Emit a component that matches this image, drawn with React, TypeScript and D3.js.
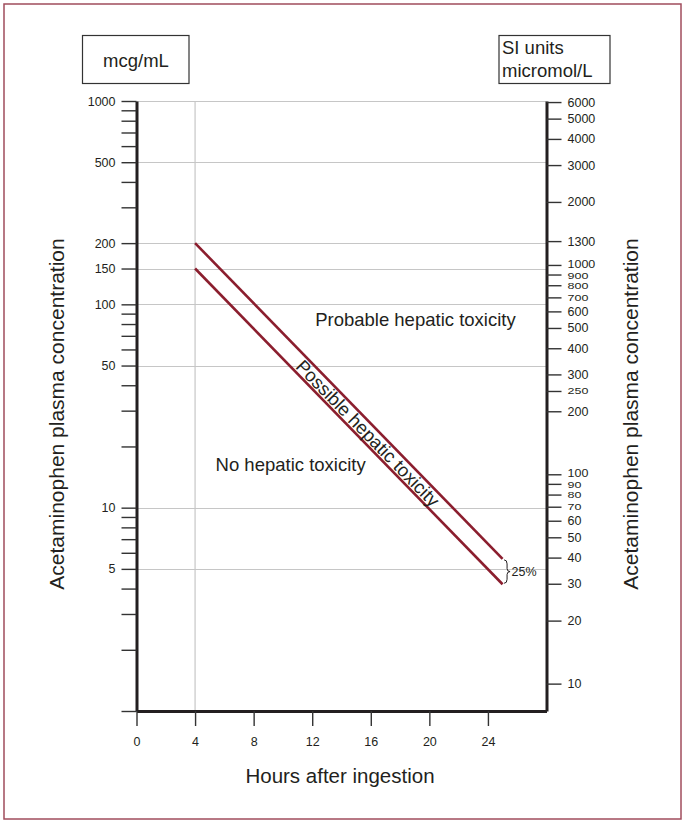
import React, { useEffect, useRef } from "react";
import * as d3 from "d3";

// values
const hours = [0, 4, 8, 12, 16, 20, 24];
const mcgMajor = [1000, 500, 200, 150, 100, 50, 10, 5];
const mcgMinor = [900, 800, 700, 600, 400, 300, 90, 80, 70, 60, 40, 30, 20, 9, 8, 7, 6, 4, 3, 2, 1];
const siTicks = [
  6000, 5000, 4000, 3000, 2000, 1300, 1000, 900, 800, 700, 600, 500, 400, 300, 250, 200,
  100, 90, 80, 70, 60, 50, 40, 30, 20, 10,
];
// these labels are printed squashed in the original, they sit very close together
const siCrowded = [900, 800, 700, 250, 90, 80, 70];
const siTight = [1000, 100];
const probableLine = [
  { hour: 4, conc: 200 },
  { hour: 25, conc: 5.6 },
];
const possibleLine = [
  { hour: 4, conc: 150 },
  { hour: 25, conc: 4.2 },
];
const regionLabels = [
  { text: "Probable hepatic toxicity", hour: 12.2, conc: 78 },
  { text: "No hepatic toxicity", hour: 5.4, conc: 15.2 },
];
const possibleLabel = { text: "Possible hepatic toxicity", hour: 15.8 };
const gapLabel = "25%";
const vGridHours = [4];

const FONT = "'Liberation Sans', Arial, Helvetica, sans-serif";
const INK = "#231f20";
const RED = "#8b1e2e";

const App = () => {
  const svgRef = useRef<SVGSVGElement>(null);

  useEffect(() => {
    const svg = d3.select(svgRef.current);
    svg.selectAll("*").remove();

    const width = 682;
    const height = 820;

    const x = d3.scaleLinear().domain([0, 28]).range([136.5, 546.5]);
    const y = d3.scaleLog().domain([1, 1000]).range([711, 101]);
    // SI scale on the right, fitted to where the printed labels sit
    const ySI = d3.scaleLog().domain([7.4, 6070]).range([711, 101]);

    svg.attr("width", width).attr("height", height).style("font-family", FONT);

    // outer frame
    svg
      .append("rect")
      .attr("x", 4)
      .attr("y", 4)
      .attr("width", 677)
      .attr("height", 815)
      .attr("fill", "none")
      .attr("stroke", "#a04c5c")
      .attr("stroke-width", 1.5);

    // grid
    svg
      .append("g")
      .selectAll("line")
      .data(mcgMajor)
      .join("line")
      .attr("x1", x(0))
      .attr("x2", x(28))
      .attr("y1", (d) => Math.round(y(d)) + 0.5)
      .attr("y2", (d) => Math.round(y(d)) + 0.5)
      .attr("stroke", "#c6c6c6")
      .attr("stroke-width", 1.2);

    svg
      .append("g")
      .selectAll("line")
      .data(vGridHours)
      .join("line")
      .attr("x1", (d) => x(d))
      .attr("x2", (d) => x(d))
      .attr("y1", y(1))
      .attr("y2", y(1000))
      .attr("stroke", "#c6c6c6")
      .attr("stroke-width", 1.2);

    const styleAxis = (g, size) => {
      g.select(".domain").attr("stroke", INK).attr("stroke-width", 3);
      g.selectAll(".tick line").attr("stroke", "#333").attr("stroke-width", 1.4);
      g.selectAll(".tick text")
        .attr("fill", INK)
        .style("font-family", FONT)
        .style("font-size", size + "px");
    };

    // left axis (mcg/mL)
    svg
      .append("g")
      .attr("transform", `translate(${x(0)},0)`)
      .call(
        d3
          .axisLeft(y)
          .tickValues([...mcgMajor, ...mcgMinor])
          .tickFormat((d) => (mcgMajor.includes(+d) ? String(d) : ""))
          .tickSize(15)
          .tickSizeOuter(0)
          .tickPadding(6)
      )
      .call((g) => styleAxis(g, 12.5));

    // right axis (micromol/L)
    svg
      .append("g")
      .attr("transform", `translate(${x(28)},0)`)
      .call(
        d3
          .axisRight(ySI)
          .tickValues(siTicks)
          .tickFormat((d) => String(d))
          .tickSize(15)
          .tickSizeOuter(0)
          .tickPadding(6)
      )
      .call((g) => styleAxis(g, 12.5))
      .call((g) => {
        g.selectAll(".tick text")
          .filter((d) => siCrowded.includes(+d))
          .attr("transform", (d) => (+d === 900 || +d === 90 ? "translate(0,1) scale(1,0.72)" : "scale(1,0.72)"));
        g.selectAll(".tick text")
          .filter((d) => siTight.includes(+d))
          .attr("transform", "translate(0,-1) scale(1,0.8)");
      });

    // bottom axis (hours)
    svg
      .append("g")
      .attr("transform", `translate(0,${y(1)})`)
      .call(d3.axisBottom(x).tickValues(hours).tickSize(15).tickSizeOuter(0).tickPadding(11))
      .call((g) => styleAxis(g, 12.5));

    // treatment lines
    const line = d3
      .line()
      .x((d) => x(d.hour))
      .y((d) => y(d.conc));

    [probableLine, possibleLine].forEach((pts) => {
      svg
        .append("path")
        .datum(pts)
        .attr("fill", "none")
        .attr("stroke", RED)
        .attr("stroke-width", 2.6)
        .attr("d", line);
    });

    // region labels
    svg
      .append("g")
      .selectAll("text")
      .data(regionLabels)
      .join("text")
      .attr("x", (d) => x(d.hour))
      .attr("y", (d) => y(d.conc))
      .attr("fill", INK)
      .style("font-size", "18.5px")
      .text((d) => d.text);

    // label between the two lines, along their slope
    const along = (pts, h) => {
      const t = (h - pts[0].hour) / (pts[1].hour - pts[0].hour);
      return y(pts[0].conc) + (y(pts[1].conc) - y(pts[0].conc)) * t;
    };
    const px = x(possibleLabel.hour);
    const py = (along(probableLine, possibleLabel.hour) + along(possibleLine, possibleLabel.hour)) / 2;
    const angle =
      (Math.atan2(
        y(probableLine[1].conc) - y(probableLine[0].conc),
        x(probableLine[1].hour) - x(probableLine[0].hour)
      ) *
        180) /
      Math.PI;
    svg
      .append("text")
      .attr("transform", `translate(${px},${py}) rotate(${angle})`)
      .attr("text-anchor", "middle")
      .attr("dominant-baseline", "central")
      .attr("fill", INK)
      .style("font-size", "18.5px")
      .text(possibleLabel.text);

    // 25% brace at line ends
    const last = probableLine.length - 1;
    const bx = x(probableLine[last].hour) + 1.5;
    const top = y(probableLine[last].conc) + 1;
    const bot = y(possibleLine[last].conc) - 1;
    const mid = (top + bot) / 2;
    const brace = d3.path();
    brace.moveTo(bx, top);
    brace.quadraticCurveTo(bx + 3, top, bx + 3, top + 4);
    brace.lineTo(bx + 3, mid - 3);
    brace.quadraticCurveTo(bx + 3, mid, bx + 6, mid);
    brace.quadraticCurveTo(bx + 3, mid, bx + 3, mid + 3);
    brace.lineTo(bx + 3, bot - 4);
    brace.quadraticCurveTo(bx + 3, bot, bx, bot);
    svg
      .append("path")
      .attr("d", brace.toString())
      .attr("fill", "none")
      .attr("stroke", INK)
      .attr("stroke-width", 1);
    svg
      .append("text")
      .attr("x", bx + 7.5)
      .attr("y", mid)
      .attr("dominant-baseline", "central")
      .attr("fill", INK)
      .style("font-size", "12.5px")
      .text(gapLabel);

    // unit boxes
    svg
      .append("rect")
      .attr("x", 82.5)
      .attr("y", 35.5)
      .attr("width", 106.5)
      .attr("height", 48)
      .attr("fill", "none")
      .attr("stroke", "#333")
      .attr("stroke-width", 1.2);
    svg
      .append("text")
      .attr("x", 136)
      .attr("y", 66.5)
      .attr("text-anchor", "middle")
      .attr("fill", INK)
      .style("font-size", "18.5px")
      .text("mcg/mL");

    svg
      .append("rect")
      .attr("x", 499)
      .attr("y", 35.5)
      .attr("width", 111)
      .attr("height", 48)
      .attr("fill", "none")
      .attr("stroke", "#333")
      .attr("stroke-width", 1.2);
    const si = svg
      .append("text")
      .attr("fill", INK)
      .style("font-size", "18.5px");
    si.append("tspan").attr("x", 502).attr("y", 54).text("SI units");
    si.append("tspan").attr("x", 502).attr("y", 76.5).text("micromol/L");

    // axis titles
    svg
      .append("text")
      .attr("transform", `translate(64,414) rotate(-90)`)
      .attr("text-anchor", "middle")
      .attr("fill", INK)
      .style("font-size", "21px")
      .text("Acetaminophen plasma concentration");
    svg
      .append("text")
      .attr("transform", `translate(638,414) rotate(-90)`)
      .attr("text-anchor", "middle")
      .attr("fill", INK)
      .style("font-size", "21px")
      .text("Acetaminophen plasma concentration");
    svg
      .append("text")
      .attr("x", 340)
      .attr("y", 783)
      .attr("text-anchor", "middle")
      .attr("fill", INK)
      .style("font-size", "20.5px")
      .text("Hours after ingestion");
  }, []);

  return <svg ref={svgRef} style={{ position: "absolute", left: 0, top: 0 }}></svg>;
};

export default App;
